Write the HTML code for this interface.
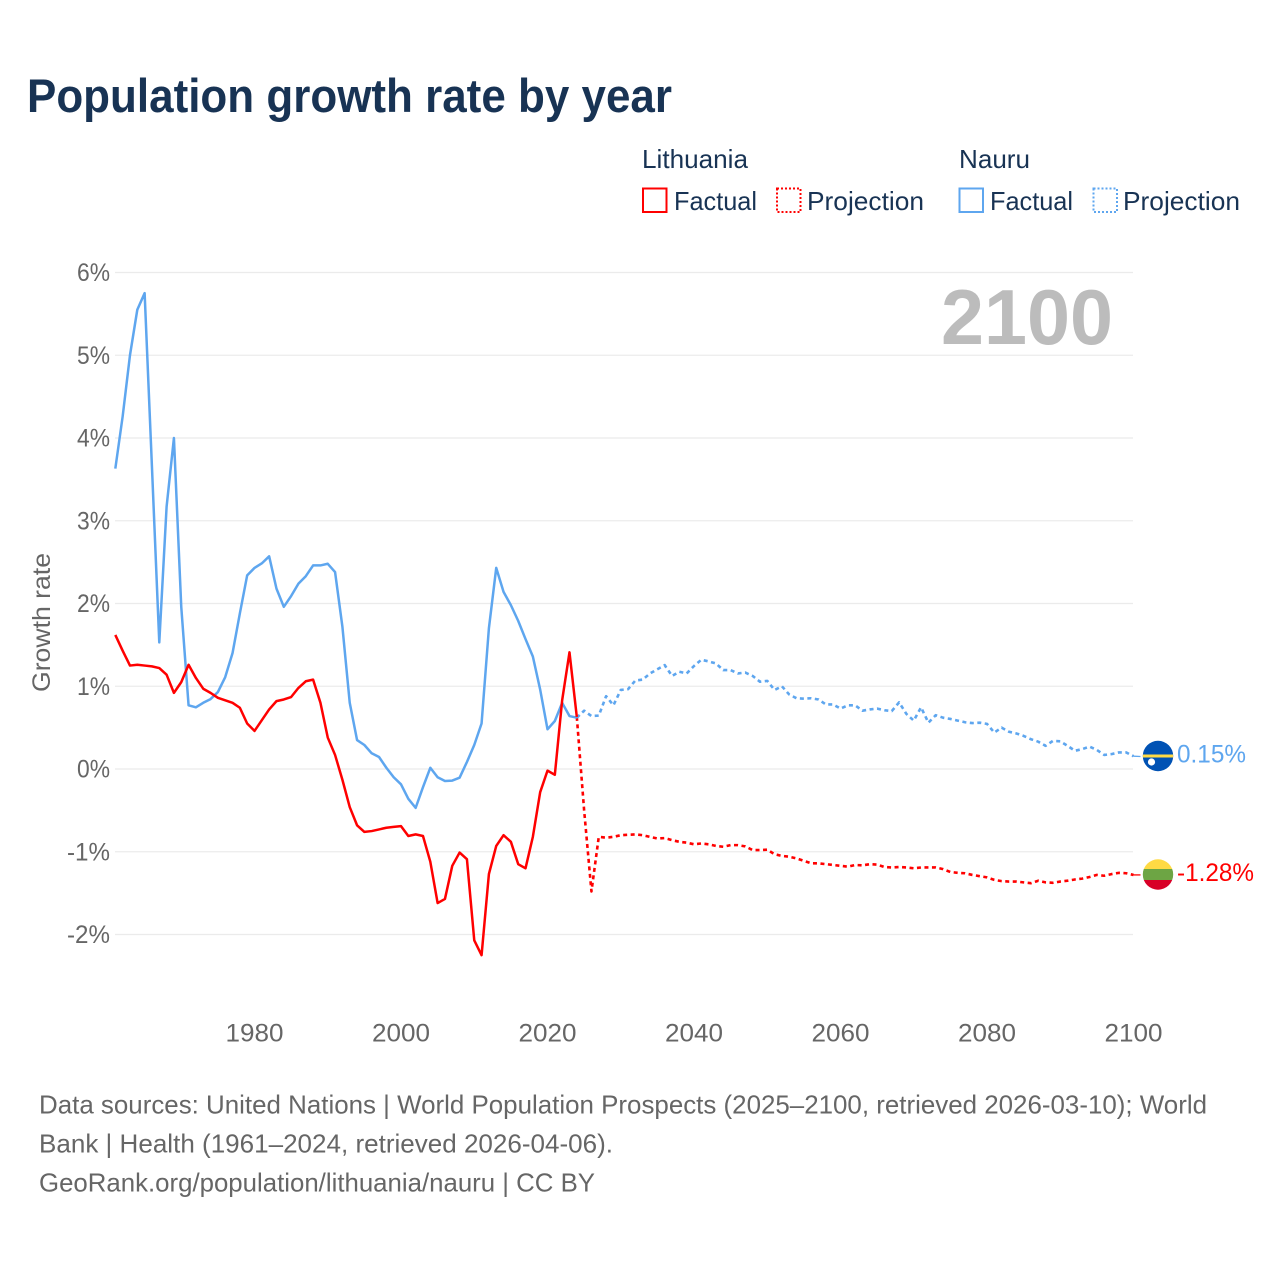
<!DOCTYPE html>
<html lang="en">
<head>
<meta charset="utf-8">
<title>Population growth rate by year</title>
<style>
html,body{margin:0;padding:0;background:#fff;}
svg{display:block;font-family:"Liberation Sans",Arial,sans-serif;}
</style>
</head>
<body>
<svg id="chart" xmlns="http://www.w3.org/2000/svg" width="1280" height="1280" viewBox="0 0 1280 1280">
  <defs>
    <clipPath id="clip-nauru"><circle id="clip-nauru-circle" cx="1158" cy="756" r="15.2"/></clipPath>
    <clipPath id="clip-lith"><circle id="clip-lith-circle" cx="1158" cy="874.5" r="15.2"/></clipPath>
  </defs>
  <rect x="0" y="0" width="1280" height="1280" fill="#fff"/>
  <text x="27" y="112" font-size="47" font-weight="700" fill="#183354" textLength="645" lengthAdjust="spacingAndGlyphs">Population growth rate by year</text>

  <g font-size="26" fill="#183354">
    <text x="642" y="168" textLength="106" lengthAdjust="spacingAndGlyphs">Lithuania</text>
    <text x="959" y="168" textLength="71" lengthAdjust="spacingAndGlyphs">Nauru</text>
    <rect x="643" y="188.5" width="23.5" height="23.5" fill="none" stroke="#ff0000" stroke-width="2"/>
    <text x="674" y="210" textLength="83" lengthAdjust="spacingAndGlyphs">Factual</text>
    <rect x="777" y="188.5" width="23.5" height="23.5" fill="none" stroke="#ff0000" stroke-width="2" stroke-dasharray="2 2"/>
    <text x="807" y="210" textLength="117" lengthAdjust="spacingAndGlyphs">Projection</text>
    <rect x="959.5" y="188.5" width="23.5" height="23.5" fill="none" stroke="#5ea6ef" stroke-width="2"/>
    <text x="990" y="210" textLength="83" lengthAdjust="spacingAndGlyphs">Factual</text>
    <rect x="1093.5" y="188.5" width="23.5" height="23.5" fill="none" stroke="#5ea6ef" stroke-width="2" stroke-dasharray="2 2"/>
    <text x="1123" y="210" textLength="117" lengthAdjust="spacingAndGlyphs">Projection</text>
  </g>

  <g id="grid"></g>
  <g id="yticks"></g>
  <g id="xticks"></g>
  <text transform="translate(50,622.5) rotate(-90)" text-anchor="middle" font-size="25" fill="#666" textLength="139" lengthAdjust="spacingAndGlyphs">Growth rate</text>
  <text x="941" y="344" font-size="78" font-weight="700" fill="#bcbcbc" textLength="172" lengthAdjust="spacingAndGlyphs">2100</text>

  <g id="series"></g>

  <g id="flag-nauru">
    <g clip-path="url(#clip-nauru)">
      <rect id="nauru-field" x="1142" y="740" width="32" height="32" fill="#0052b4"/>
      <rect id="nauru-stripe" x="1142" y="754.5" width="32" height="3" fill="#ffda44"/>
      <circle id="nauru-star" cx="1151.5" cy="762" r="3.6" fill="#fff"/>
    </g>
  </g>
  <g id="flag-lith">
    <g clip-path="url(#clip-lith)">
      <rect id="lith-top" x="1142" y="859" width="32" height="10" fill="#ffda44"/>
      <rect id="lith-mid" x="1142" y="869" width="32" height="11" fill="#6da544"/>
      <rect id="lith-bot" x="1142" y="880" width="32" height="11" fill="#d80027"/>
    </g>
  </g>
  <g id="endlabels"></g>

  <g font-size="26" fill="#666">
    <text x="39" y="1113.5" textLength="1168" lengthAdjust="spacingAndGlyphs">Data sources: United Nations | World Population Prospects (2025–2100, retrieved 2026-03-10); World</text>
    <text x="39" y="1152.5" textLength="574" lengthAdjust="spacingAndGlyphs">Bank | Health (1961–2024, retrieved 2026-04-06).</text>
    <text x="39" y="1191.5" textLength="556" lengthAdjust="spacingAndGlyphs">GeoRank.org/population/lithuania/nauru | CC BY</text>
  </g>
</svg>
<script>
const factualStartYear = 1961;
const projectionStartYear = 2024;
const yTickValues = [6,5,4,3,2,1,0,-1,-2];
const yTickLabels = ["6%","5%","4%","3%","2%","1%","0%","-1%","-2%"];
const xTickYears = [1980,2000,2020,2040,2060,2080,2100];
const xTickLabels = ["1980","2000","2020","2040","2060","2080","2100"];
const lithuaniaFactual = [
1.62,1.43,1.25,1.26,1.25,1.24,1.22,1.14,0.92,1.05,
1.26,1.10,0.97,0.92,0.86,0.83,0.80,0.74,0.55,0.46,
0.59,0.72,0.82,0.84,0.87,0.98,1.06,1.08,0.80,0.38,
0.17,-0.13,-0.46,-0.68,-0.76,-0.75,-0.73,-0.71,-0.70,-0.69,
-0.81,-0.79,-0.81,-1.12,-1.62,-1.57,-1.17,-1.01,-1.09,-2.07,
-2.25,-1.27,-0.93,-0.80,-0.88,-1.15,-1.20,-0.82,-0.28,-0.02,
-0.07,0.83,1.41,0.63];
const lithuaniaProjection = [
0.63,-0.50,-1.48,-0.82,-0.83,-0.82,
-0.80,-0.795,-0.79,-0.80,-0.82,-0.84,-0.835,-0.86,-0.88,-0.89,
-0.91,-0.90,-0.91,-0.93,-0.94,-0.92,-0.92,-0.935,-0.98,-0.98,
-0.975,-1.03,-1.05,-1.06,-1.08,-1.11,-1.14,-1.14,-1.15,-1.16,
-1.17,-1.18,-1.16,-1.165,-1.15,-1.155,-1.185,-1.19,-1.185,-1.19,
-1.20,-1.19,-1.19,-1.19,-1.21,-1.245,-1.255,-1.26,-1.28,-1.295,
-1.31,-1.34,-1.355,-1.36,-1.36,-1.37,-1.38,-1.35,-1.37,-1.375,
-1.36,-1.35,-1.335,-1.325,-1.305,-1.28,-1.29,-1.27,-1.255,-1.26,
-1.28];
const nauruFactual = [
3.63,4.26,5.00,5.55,5.75,3.65,1.53,3.17,4.00,1.96,
0.77,0.745,0.80,0.845,0.93,1.11,1.40,1.88,2.34,2.43,
2.485,2.57,2.18,1.96,2.09,2.24,2.33,2.46,2.46,2.48,
2.38,1.72,0.80,0.35,0.29,0.19,0.145,0.015,-0.10,-0.185,
-0.36,-0.47,-0.22,0.015,-0.10,-0.145,-0.14,-0.105,0.085,0.29,
0.55,1.70,2.43,2.14,1.98,1.79,1.57,1.36,0.96,0.48,
0.58,0.80,0.64,0.62];
const nauruProjection = [
0.62,0.705,0.64,0.645,0.88,0.77,
0.955,0.965,1.07,1.08,1.155,1.205,1.255,1.125,1.175,1.155,
1.245,1.32,1.30,1.275,1.195,1.195,1.155,1.165,1.125,1.055,
1.065,0.955,1.00,0.90,0.855,0.85,0.855,0.84,0.78,0.78,
0.73,0.77,0.77,0.705,0.72,0.73,0.71,0.70,0.805,0.665,
0.585,0.745,0.56,0.65,0.62,0.605,0.585,0.565,0.555,0.56,
0.545,0.44,0.50,0.45,0.43,0.40,0.36,0.33,0.28,0.34,
0.335,0.28,0.22,0.24,0.27,0.23,0.17,0.18,0.20,0.20,
0.155];
const endValues = [0.15,-1.28];
const endLabels = ["0.15%","-1.28%"];

const SVGNS = "http://www.w3.org/2000/svg";
const RED = "#ff0000";
const BLUE = "#5ea6ef";
function xScale(year){ return 401 + (year - 2000) * 7.325; }
function yScale(v){ return 769 - v * 82.75; }
function make(tag, parent, attrs){
  const el = document.createElementNS(SVGNS, tag);
  for (const k in attrs) el.setAttribute(k, attrs[k]);
  parent.appendChild(el);
  return el;
}
function pathFrom(values, startYear){
  return values.map(function(v, i){
    return (i ? "L" : "M") + xScale(startYear + i).toFixed(2) + " " + yScale(v).toFixed(2);
  }).join(" ");
}
const gridG = document.getElementById("grid");
const yG = document.getElementById("yticks");
const xG = document.getElementById("xticks");
const seriesG = document.getElementById("series");
const endG = document.getElementById("endlabels");

yTickValues.forEach(function(v, i){
  const line = make("line", gridG, {x1:115, x2:1133, y1:yScale(v), y2:yScale(v), stroke:"#ebebeb", "stroke-width":1.3});
  
  
  const label = yTickLabels[i];
  const w = 14 * (label.replace(/[^0-9]/g, "").length) + 19 + (label[0] === "-" ? 10 : 0);
  const t = make("text", yG, {x:110, y:yScale(v) + 8.5, "text-anchor":"end", "font-size":25, fill:"#666", textLength:w, lengthAdjust:"spacingAndGlyphs"});
  t.textContent = label;
  
  
});
xTickYears.forEach(function(year, i){
  const t = make("text", xG, {x:xScale(year), y:1041.5, "text-anchor":"middle", "font-size":25, fill:"#666", textLength:58, lengthAdjust:"spacingAndGlyphs"});
  t.textContent = xTickLabels[i];
  
  
});

const pLithProj = make("path", seriesG, {d:pathFrom(lithuaniaProjection, projectionStartYear), fill:"none", stroke:RED, "stroke-width":2.6, "stroke-dasharray":"4 3.5", "stroke-linejoin":"round"});


const pNauruProj = make("path", seriesG, {d:pathFrom(nauruProjection, projectionStartYear), fill:"none", stroke:BLUE, "stroke-width":2.6, "stroke-dasharray":"4 3.5", "stroke-linejoin":"round"});


const pNauru = make("path", seriesG, {d:pathFrom(nauruFactual, factualStartYear), fill:"none", stroke:BLUE, "stroke-width":2.5, "stroke-linejoin":"round"});


const pLith = make("path", seriesG, {d:pathFrom(lithuaniaFactual, factualStartYear), fill:"none", stroke:RED, "stroke-width":2.5, "stroke-linejoin":"round"});



const endColors = [BLUE, RED];
const endWidths = [69, 77];
const lastYear = projectionStartYear + nauruProjection.length - 1;
endValues.forEach(function(v, i){
  const last = (i === 0 ? nauruProjection : lithuaniaProjection);
  const c = make("line", endG, {x1:xScale(lastYear), x2:1143, y1:yScale(last[last.length - 1]), y2:yScale(v), stroke:endColors[i], "stroke-width":1.3, "stroke-dasharray":"7 3"});
  
  
  const t = make("text", endG, {x:1177, y:yScale(v) + 6, "font-size":25, fill:endColors[i], textLength:endWidths[i], lengthAdjust:"spacingAndGlyphs"});
  t.textContent = endLabels[i];
  
  
});
</script>
</body>
</html>
